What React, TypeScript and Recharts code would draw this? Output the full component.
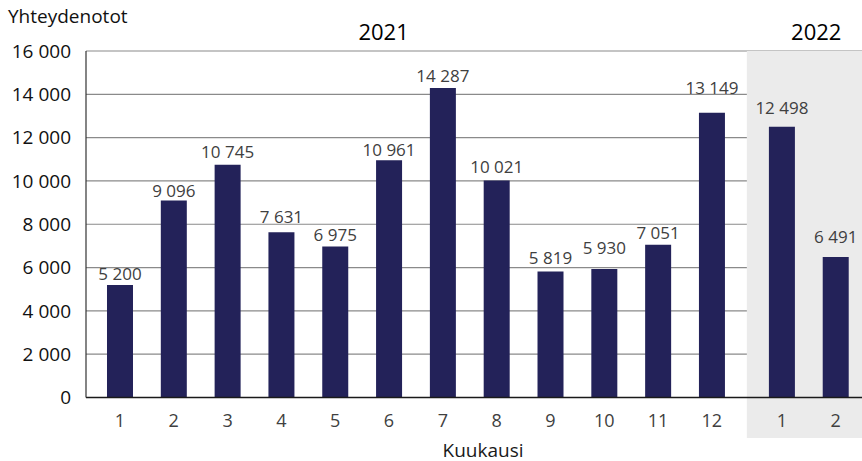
import React from 'react';
import { BarChart, Bar, XAxis, YAxis, CartesianGrid, ReferenceArea } from 'recharts';

const monthLabels = ['1', '2', '3', '4', '5', '6', '7', '8', '9', '10', '11', '12', '1', '2'];
const years = [2021, 2021, 2021, 2021, 2021, 2021, 2021, 2021, 2021, 2021, 2021, 2021, 2022, 2022];
const contacts = [5200, 9096, 10745, 7631, 6975, 10961, 14287, 10021, 5819, 5930, 7051, 13149, 12498, 6491];
const yTicks = [0, 2000, 4000, 6000, 8000, 10000, 12000, 14000, 16000];
const yearTitles = ['2021', '2022'];

// layout (axis units / px gaps)
const YEAR_GAP = 0.3;
const X_MIN = 0.37;
const X_MAX = 14.79;
const SHADE_START = 12.65;
const YEAR_TITLE_POS = [5.9, 13.94];
const LABEL_GAPS = [5, 4, 7, 9, 5, 4, 6, 7, 7, 15, 6, 19, 13, 14];

const FONT = '"Open Sans", sans-serif';

const data = contacts.map((v, i) => ({
  pos: i + 1 + (years[i] === 2022 ? YEAR_GAP : 0),
  month: monthLabels[i],
  value: v,
}));

const fmt = (v: number) => String(v).replace(/\B(?=(\d{3})+(?!\d))/g, '\u00A0');

const monthByPos = (p: number) => {
  const d = data.find((x) => Math.abs(x.pos - p) < 1e-6);
  return d ? d.month : '';
};

const YearTick = (props: any) => {
  const { x, payload } = props;
  const idx = YEAR_TITLE_POS.findIndex((p) => Math.abs(p - payload.value) < 1e-6);
  return (
    <text x={x} y={40} textAnchor="middle" fontFamily={FONT} fontSize={22} fill="#000">
      {yearTitles[idx]}
    </text>
  );
};

const BarValueLabel = (props: any) => {
  const { x, y, width, value, index } = props;
  return (
    <text
      x={x + width / 2}
      y={y - LABEL_GAPS[index]}
      textAnchor="middle"
      fontFamily={FONT}
      fontSize={17}
      fill="#404040"
    >
      {fmt(Number(value))}
    </text>
  );
};

export default function App() {
  return (
    <div style={{ position: 'absolute', left: 0, top: 0 }}>
      <BarChart
        width={862}
        height={461}
        data={data}
        margin={{ top: 0, right: 0, bottom: 0, left: 0 }}
      >
        <ReferenceArea
          x1={SHADE_START}
          x2={X_MAX}
          y1={-1870}
          y2={16000}
          fill="#ebebeb"
          fillOpacity={1}
          stroke="none"
          ifOverflow="visible"
        />
        <CartesianGrid vertical={false} stroke="#8a8a8a" strokeWidth={1.2} />
        <XAxis
          dataKey="pos"
          type="number"
          domain={[X_MIN, X_MAX]}
          ticks={data.map((d) => d.pos)}
          tickFormatter={monthByPos}
          allowDataOverflow
          height={63.5}
          tickLine={false}
          tickSize={0}
          tickMargin={17}
          axisLine={{ stroke: '#1a1a1a', strokeWidth: 1.6 }}
          tick={{ fill: '#404040', fontSize: 18, fontFamily: FONT }}
          interval={0}
          label={{
            content: (p: any) => {
              const vb = p.viewBox;
              return (
                <text
                  x={vb.x + vb.width / 2 + 9}
                  y={vb.y + 59}
                  textAnchor="middle"
                  fontFamily={FONT}
                  fontSize={19}
                  fill="#1a1a1a"
                >
                  Kuukausi
                </text>
              );
            },
          }}
        />
        <XAxis
          xAxisId="years"
          orientation="top"
          type="number"
          dataKey="pos"
          domain={[X_MIN, X_MAX]}
          ticks={YEAR_TITLE_POS}
          allowDataOverflow
          height={51}
          axisLine={false}
          tickLine={false}
          tick={<YearTick />}
          interval={0}
        />
        <YAxis
          width={86}
          domain={[0, 16000]}
          ticks={yTicks}
          tickFormatter={fmt}
          tickLine={false}
          tickSize={0}
          tickMargin={15}
          axisLine={{ stroke: '#333', strokeWidth: 1.2 }}
          tick={{ fill: '#111', fontSize: 19, fontFamily: FONT }}
          interval={0}
          label={{
            content: () => (
              <text x={8} y={23} fontFamily={FONT} fontSize={19} fill="#111">
                Yhteydenotot
              </text>
            ),
          }}
        />
        <Bar
          dataKey="value"
          fill="#232259"
          barSize={26}
          isAnimationActive={false}
          label={<BarValueLabel />}
        />
      </BarChart>
    </div>
  );
}
